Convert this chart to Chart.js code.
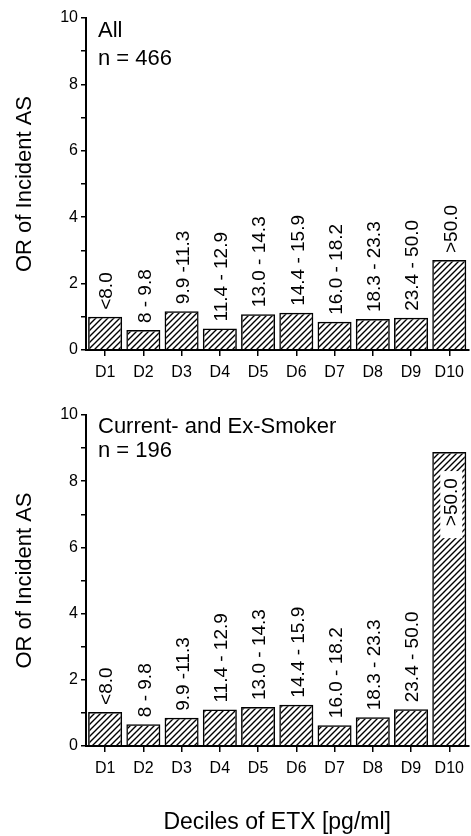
<!DOCTYPE html>
<html>
<head>
<meta charset="utf-8">
<script src="https://cdn.jsdelivr.net/npm/chart.js@4.4.0/dist/chart.umd.min.js"></script>
<style>
  html, body { margin: 0; padding: 0; background: #fff; }
  .panel { position: absolute; left: 0; width: 471px; }
  #top { top: 0; height: 400px; }
  #bottom { top: 400px; height: 436px; }
</style>
</head>
<body>
<div class="panel" id="top"><canvas id="chartAll"></canvas></div>
<div class="panel" id="bottom"><canvas id="chartSmoker"></canvas></div>
<script>
const deciles = ['D1', 'D2', 'D3', 'D4', 'D5', 'D6', 'D7', 'D8', 'D9', 'D10'];
const etxRanges = [
  '<8.0', '8 - 9.8', '9.9 -11.3', '11.4 - 12.9', '13.0 - 14.3',
  '14.4 - 15.9', '16.0 - 18.2', '18.3 - 23.3', '23.4 - 50.0', '>50.0'
];
const orAll = [1.0, 0.6, 1.17, 0.65, 1.08, 1.12, 0.85, 0.93, 0.97, 2.71];
const orSmoker = [1.03, 0.66, 0.85, 1.1, 1.18, 1.25, 0.63, 0.87, 1.11, 8.88];
const yTicks = [0, 2, 4, 6, 8, 10];

const FONT = '"Liberation Sans", Arial, sans-serif';
Chart.defaults.font.family = FONT;
Chart.defaults.color = '#000';

// diagonal "/" hatch used for every bar
const makeHatch = () => {
  const tile = document.createElement('canvas');
  tile.width = 6;
  tile.height = 6;
  const g = tile.getContext('2d');
  g.strokeStyle = '#000';
  g.lineWidth = 1.4;
  g.beginPath();
  g.moveTo(-1, 7); g.lineTo(7, -1);
  g.moveTo(-4, 4); g.lineTo(4, -4);
  g.moveTo(2, 10); g.lineTo(10, 2);
  g.stroke();
  return g.createPattern(tile, 'repeat');
};
const hatch = makeHatch();

// ETX range written vertically over each bar
const rangeLabels = {
  id: 'rangeLabels',
  afterDatasetsDraw(chart, args, opts) {
    const { ctx } = chart;
    const meta = chart.getDatasetMeta(0);
    ctx.save();
    ctx.font = `19px ${FONT}`;
    ctx.textBaseline = 'middle';
    meta.data.forEach((bar, i) => {
      const text = etxRanges[i];
      ctx.save();
      ctx.translate(bar.x + 2, bar.y);
      ctx.rotate(-Math.PI / 2);
      if (i === opts.inside) {
        const w = ctx.measureText(text).width;
        ctx.fillStyle = '#fff';
        ctx.fillRect(-26 - w - 12, -11, w + 19, 22);
        ctx.fillStyle = '#000';
        ctx.textAlign = 'right';
        ctx.fillText(text, -26, 0);
      } else {
        ctx.fillStyle = '#000';
        ctx.textAlign = 'left';
        ctx.fillText(text, 7, 0);
      }
      ctx.restore();
    });
    ctx.restore();
  }
};

// group name and n in the upper left of the plot
const panelNote = {
  id: 'panelNote',
  afterDraw(chart, args, opts) {
    const { ctx, chartArea } = chart;
    ctx.save();
    ctx.font = `22px ${FONT}`;
    ctx.fillStyle = '#000';
    ctx.textBaseline = 'alphabetic';
    opts.lines.forEach((line, i) => {
      ctx.fillText(line, chartArea.left + 12, chartArea.top + opts.baselines[i]);
    });
    ctx.restore();
  }
};

const makeChart = (id, values, cfg) => new Chart(document.getElementById(id), {
  type: 'bar',
  data: {
    labels: deciles,
    datasets: [{
      data: values,
      backgroundColor: hatch,
      borderColor: '#000',
      borderWidth: 1.5,
      barPercentage: 0.89,
      categoryPercentage: 1
    }]
  },
  plugins: [rangeLabels, panelNote],
  options: {
    responsive: true,
    maintainAspectRatio: false,
    animation: false,
    layout: { padding: { top: cfg.top, right: 1, left: 0, bottom: 0 } },
    plugins: {
      legend: { display: false },
      tooltip: { enabled: false },
      rangeLabels: { inside: cfg.inside },
      panelNote: { lines: cfg.note, baselines: cfg.noteBaselines }
    },
    scales: {
      x: {
        border: { color: '#000', width: 2 },
        grid: {
          offset: false,
          drawOnChartArea: false,
          tickLength: 6,
          color: '#000',
          lineWidth: 1.5
        },
        ticks: { color: '#000', font: { size: 16 }, padding: 7, maxRotation: 0 },
        title: {
          display: cfg.xTitle,
          text: 'Deciles of ETX [pg/ml]',
          color: '#000',
          font: { size: 23 },
          padding: { top: 0, bottom: 0 }
        },
        afterFit(scale) { scale.height = cfg.xHeight; }
      },
      y: {
        min: 0,
        max: 10,
        border: { color: '#000', width: 2 },
        grid: {
          drawOnChartArea: false,
          tickLength: 5,
          color: '#000',
          lineWidth: 1.5
        },
        ticks: {
          stepSize: 1,
          autoSkip: false,
          padding: 3,
          color: '#000',
          font: { size: 16 },
          callback: v => (yTicks.includes(v) ? v : '')
        },
        title: {
          display: true,
          text: 'OR of Incident AS',
          color: '#000',
          font: { size: 22 },
          padding: { top: 12, bottom: 0 }
        },
        afterFit(scale) { scale.width = 86; }
      }
    }
  }
});

makeChart('chartAll', orAll, {
  top: 18,
  xHeight: 50,
  xTitle: false,
  inside: -1,
  note: ['All', 'n = 466'],
  noteBaselines: [19, 47]
});

makeChart('chartSmoker', orSmoker, {
  top: 15,
  xHeight: 90,
  xTitle: true,
  inside: 9,
  note: ['Current- and Ex-Smoker', 'n = 196'],
  noteBaselines: [18, 42]
});
</script>
</body>
</html>
